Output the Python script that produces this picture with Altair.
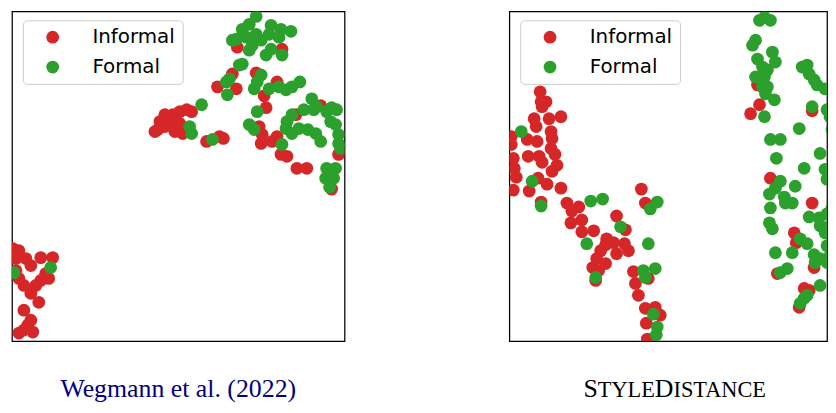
import altair as alt
import pandas as pd

RED = "#d62728"
GREEN = "#2ca02c"
CATEGORIES = ["Informal", "Formal"]

# ---- Left panel (Wegmann et al. 2022) ----
left_informal_x = [147, 154, 149, 159, 162, 169, 176, 181, 169, 164, 172, 154, 144, 196, 209, 213,
                   207, 226, 222, 227, 272, 246, 254, 267, 256, 249, 252, 251, 262, 267, 271, 277,
                   287, 297, 286, 311, 329, 322,
                   7, 4, 14, 19, 29, 41, 34, 29, 37, 24, 12, 7, 19, 27, 12, 19, 12, 21, 7, 16, 4, 1]
left_informal_y = [213, 228, 221, 218, 228, 231, 233, 231, 219, 211, 209, 216, 211, 201, 206, 204,
                   256, 254, 269, 296, 294, 270, 247, 261, 235, 216, 208, 199, 201, 206, 188, 186,
                   174, 174, 228, 237, 188, 153,
                   91, 83, 83, 76, 84, 84, 68, 61, 63, 56, 56, 63, 48, 39, 31, 21, 11, 9, 8, 16, 71, 93]
left_formal_x = [191, 179, 181, 202, 217, 219, 216, 232, 246, 239, 232, 226, 222, 236, 246, 251,
                 261, 271, 281, 269, 259, 242, 239, 256, 261, 272, 229, 251, 247, 244, 259, 269,
                 276, 282, 290, 302, 247, 294, 307, 322, 327, 282, 277, 276, 282, 289, 298, 306,
                 311, 317, 321, 326, 329, 329, 239, 244, 272, 317, 326, 316, 324, 320, 331, 304,
                 2, 39]
left_formal_y = [238, 216, 209, 203, 248, 264, 261, 279, 327, 319, 314, 304, 303, 306, 309, 303,
                 318, 314, 312, 306, 309, 298, 293, 288, 294, 288, 278, 268, 261, 254, 254, 256,
                 253, 256, 261, 244, 231, 233, 236, 235, 233, 228, 221, 214, 209, 214, 213, 209,
                 201, 231, 221, 218, 208, 199, 218, 213, 198, 174, 174, 164, 164, 155, 194, 233,
                 69, 74]

# ---- Right panel (StyleDistance) ----
right_informal_x = [31, 32, 37, 33, 25, 40, 52, 27, 42, 43, 2, 2, 18, 28, 42, 46, 19, 30, 33, 48,
                    43, 4, 5, 7, 4, 20, 29, 38, 52, 32, 58, 70, 63, 62, 73, 73, 85, 108, 117, 98,
                    97, 105, 116, 120, 108, 92, 88, 84, 90, 87, 97, 133, 137, 125, 127, 130, 140,
                    137, 147, 152, 138, 139,
                    250, 252, 243, 305, 263, 305, 287, 289, 307, 270, 297, 302, 292]
right_informal_y = [251, 241, 241, 236, 224, 224, 226, 216, 211, 204, 206, 198, 203, 201, 194, 188,
                    186, 186, 180, 177, 171, 184, 174, 165, 152, 151, 164, 158, 154, 140, 139, 135,
                    131, 119, 122, 110, 111, 126, 112, 103, 97, 99, 98, 91, 88, 91, 83, 74, 71, 61,
                    78, 153, 139, 70, 58, 46, 63, 33, 34, 26, 18, 2,
                    258, 238, 229, 232, 164, 139, 109, 99, 74, 68, 53, 51, 34]
right_formal_x = [12, 23, 32, 82, 94, 78, 112, 87, 149, 142, 140, 135, 147, 137, 145, 149, 148,
                  257, 263, 252, 248, 245, 265, 250, 268, 255, 260, 248, 257, 255, 260, 258, 267,
                  257, 295, 300, 302, 307, 310, 318, 305, 320, 323, 325, 292, 263, 273, 269, 313,
                  297, 318, 320, 273, 268, 288, 262, 277, 285, 278, 263, 325, 302, 312, 320, 313,
                  318, 323, 262, 265, 293, 300, 285, 268, 307, 320, 313, 323, 308, 320, 273, 280,
                  313, 300, 297, 293, 323]
right_formal_y = [211, 161, 136, 141, 143, 98, 115, 64, 140, 133, 98, 71, 73, 64, 27, 14, 6,
                  326, 323, 323, 303, 298, 291, 284, 281, 276, 273, 266, 266, 256, 256, 249, 243,
                  226, 276, 278, 269, 263, 258, 254, 236, 233, 226, 213, 214, 203, 203, 184, 189,
                  174, 173, 163, 161, 154, 156, 148, 145, 139, 139, 134, 134, 125, 124, 128, 116,
                  109, 116, 119, 113, 103, 98, 89, 89, 87, 96, 83, 86, 79, 79, 69, 73,
                  56, 46, 43, 38, 229]

LEFT_CAPTION = "Wegmann et al. (2022)"
RIGHT_CAPTION = [("S", "big"), ("TYLE", "small"), ("D", "big"), ("ISTANCE", "small")]

# Times / Liberation Serif advance widths (per 1000 em) for the caption letters
TIMES_W = {"S": 556, "T": 611, "Y": 722, "L": 611, "E": 611, "D": 722, "I": 333,
           "A": 722, "N": 722, "C": 667}
BIG, SMALL = 26, 22.5

W_LEFT, W_RIGHT, H = 335, 320, 332
CAP_Y = 388


def panel_df(ix, iy, fx, fy):
    return pd.DataFrame({
        "x": list(ix) + list(fx),
        "y": list(iy) + list(fy),
        "style": ["Informal"] * len(ix) + ["Formal"] * len(fx),
    })


def scatter(df, xmax):
    return alt.Chart(df).mark_circle(size=165, opacity=1, clip=True).encode(
        x=alt.X("x:Q", scale=alt.Scale(domain=[0, xmax], nice=False, zero=False), axis=None),
        y=alt.Y("y:Q", scale=alt.Scale(domain=[0, H], nice=False, zero=False), axis=None),
        color=alt.Color(
            "style:N",
            scale=alt.Scale(domain=CATEGORIES, range=[RED, GREEN]),
            legend=alt.Legend(title=None, orient="none", legendX=11, legendY=9),
        ),
    )


left_points = scatter(panel_df(left_informal_x, left_informal_y, left_formal_x, left_formal_y), W_LEFT)
left_text = alt.Chart(pd.DataFrame({"t": [LEFT_CAPTION]})).mark_text(
    font="Liberation Serif", fontSize=26, color="#00007f", align="center", baseline="alphabetic"
).encode(text="t:N", x=alt.value(W_LEFT / 2), y=alt.value(CAP_Y))
left = alt.layer(left_points, left_text).properties(width=W_LEFT, height=H)

right_points = scatter(panel_df(right_informal_x, right_informal_y, right_formal_x, right_formal_y), W_RIGHT)

piece_w = []
for s, kind in RIGHT_CAPTION:
    fs = BIG if kind == "big" else SMALL
    piece_w.append(sum(TIMES_W[c] for c in s) / 1000 * fs)
start = W_LEFT / 2 - sum(piece_w) / 2
right_layers = [right_points]
cursor = start
for (s, kind), w in zip(RIGHT_CAPTION, piece_w):
    fs = BIG if kind == "big" else SMALL
    right_layers.append(
        alt.Chart(pd.DataFrame({"t": [s]})).mark_text(
            font="Liberation Serif", fontSize=fs, color="black", align="left", baseline="alphabetic"
        ).encode(text="t:N", x=alt.value(cursor), y=alt.value(CAP_Y))
    )
    cursor += w
right = alt.layer(*right_layers).properties(width=W_RIGHT, height=H)

chart = (
    alt.hconcat(left, right, spacing=164)
    .resolve_scale(color="independent")
    .resolve_legend(color="independent")
    .properties(padding={"left": 3, "top": 1, "right": 0, "bottom": 0})
    .configure_view(stroke="black", strokeWidth=1.25)
    .configure_legend(
        labelFont="DejaVu Sans", labelFontSize=20, labelColor="black", labelLimit=0,
        symbolSize=165, symbolType="circle", symbolStrokeWidth=0,
        symbolOffset=13, labelOffset=30, padding=7, rowPadding=10,
        cornerRadius=4, strokeColor="#cccccc", fillColor="white",
    )
)

chart.save("out.html", embed_options={"renderer": "svg", "actions": False})
